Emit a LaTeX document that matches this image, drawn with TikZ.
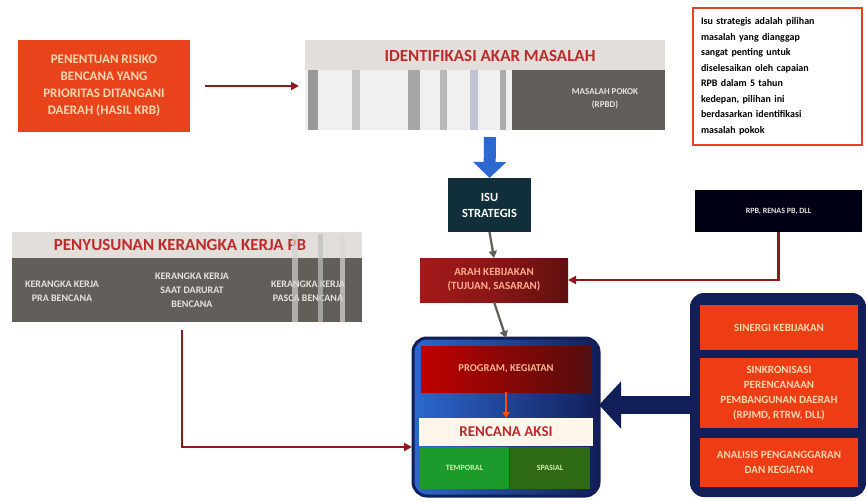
\documentclass[tikz,border=0pt]{standalone}
\usepackage{fontspec}
\setmainfont{Carlito}
\usetikzlibrary{arrows.meta,calc}
\definecolor{orangebox}{HTML}{E9431C}
\definecolor{peach}{HTML}{FBD7B0}
\definecolor{titlegrey}{HTML}{E2DFDB}
\definecolor{darkgrey}{HTML}{625E5A}
\definecolor{titlered}{HTML}{BE2A2C}
\definecolor{tealbox}{HTML}{102F3A}
\definecolor{wine}{HTML}{8A1616}
\definecolor{navy}{HTML}{121E58}
\definecolor{bandred}{HTML}{EE3C14}
\definecolor{midblue}{HTML}{2C68D0}
\definecolor{arrowred}{HTML}{8E1A1E}
\definecolor{greenA}{HTML}{1C9A2C}
\definecolor{greenB}{HTML}{2E6914}
\definecolor{palegreen}{HTML}{CDEFA5}
\definecolor{boxtext}{HTML}{E6E2DE}
\begin{document}
\begin{tikzpicture}[x=1pt,y=-1pt,
  rect/.style={anchor=north west,inner sep=0pt,outer sep=0pt,align=center},
  coltext/.style={text=boxtext,font=\bfseries\fontsize{10}{14}\selectfont,align=center},
  redline/.style={draw=arrowred,line width=2.2pt,-{Triangle[length=8pt,width=8pt]}},
  greyline/.style={draw=darkgrey,line width=2.2pt,-{Triangle[length=7pt,width=8pt]}}]
\useasboundingbox[fill=white] (0,0) rectangle (866,500);

% --- risk box
\node[rect,fill=orangebox,minimum width=172pt,minimum height=92pt,text=peach,
  font=\bfseries\fontsize{13}{17}\selectfont] (risk) at (18,40)
  {PENENTUAN RISIKO\\BENCANA YANG\\PRIORITAS DITANGANI\\DAERAH (HASIL KRB)};

% --- identifikasi akar masalah
\node[rect,fill=darkgrey,minimum width=360pt,minimum height=90pt] (ident) at (305,40) {};
\fill[titlegrey] (305,40) rectangle (665,70);
\fill[white!88!gray] (305,70) rectangle (522,130);
\foreach \a/\b/\c in {308/318/gray!80,352/360/gray!45,408/420/gray!70,440/447/gray!55,470/478/blue!20!gray!40,500/506/gray!65,512/522/darkgrey}
  \fill[\c] (\a,70) rectangle (\b,130);
\node[font=\bfseries\fontsize{17}{19}\selectfont,text=titlered] (identT) at (490,56) {IDENTIFIKASI AKAR MASALAH};
\node[coltext,font=\bfseries\fontsize{9}{13}\selectfont] (identC) at (605,99) {MASALAH POKOK\\(RPBD)};

% --- blue arrow
\coordinate (blueA) at (490,137);
\node[rect,fill=tealbox,minimum width=83pt,minimum height=54pt,text=white,
  font=\bfseries\fontsize{12.5}{16}\selectfont] (isu) at (448,178) {ISU\\STRATEGIS};
\draw[draw=midblue,line width=12pt,-{Triangle[length=16pt,width=32pt]}] (blueA) -- (isu.north);

% --- arah kebijakan
\node[rect,left color=red!60!black!90,right color=wine!70!black,middle color=wine,
  minimum width=148pt,minimum height=44pt,text=peach!80!red,
  font=\bfseries\fontsize{11}{14}\selectfont] (arah) at (420,258) {ARAH KEBIJAKAN\\(TUJUAN, SASARAN)};
\draw[greyline] (isu.south) -- (arah.north);

% --- RPB box
\node[rect,fill=black!92!blue,minimum width=167pt,minimum height=42pt,text=boxtext,
  font=\bfseries\fontsize{8}{10}\selectfont] (rpb) at (695,190) {RPB, RENAS PB, DLL};
\draw[redline] (rpb.south) |- (arah.east);

% --- penyusunan kerangka kerja
\node[rect,fill=darkgrey,minimum width=350pt,minimum height=90pt] (pen) at (12,232) {};
\fill[titlegrey] (12,232) rectangle (362,258);
\node[font=\bfseries\fontsize{17}{19}\selectfont,text=titlered] (penT) at (180,245) {PENYUSUNAN KERANGKA KERJA PB};
\node[coltext] (pen1) at (62,291) {KERANGKA KERJA\\PRA BENCANA};
\node[coltext] (pen2) at (192,290) {KERANGKA KERJA\\SAAT DARURAT\\BENCANA};
\node[coltext] (pen3) at (308,291) {KERANGKA KERJA\\PASCA BENCANA};
\foreach \a/\b/\c in {292/298/gray!35,318/323/gray!50,340/345/gray!30}
  \fill[\c,opacity=0.7] (\a,234) rectangle (\b,322);

% --- centre rounded box
\node[rect,draw=navy,line width=3pt,rounded corners=14pt,left color=midblue,right color=navy,
  minimum width=186pt,minimum height=158pt] (ctr) at (413,338) {};
\node[rect,left color=red!75!black,right color=wine!60!black,minimum width=170pt,minimum height=46pt,
  text=peach!85!red,font=\bfseries\fontsize{10.5}{12}\selectfont] (prog) at (421,346) {PROGRAM, KEGIATAN};
\node[rect,fill=white!92!orange,minimum width=174pt,minimum height=28pt,text=titlered,
  font=\bfseries\fontsize{15}{17}\selectfont] (aksi) at (419,418) {RENCANA AKSI};
\node[rect,fill=greenA,minimum width=89pt,minimum height=42pt,text=palegreen,
  font=\bfseries\fontsize{8}{10}\selectfont] (temp) at (420,447) {TEMPORAL};
\node[rect,fill=greenB,minimum width=80pt,minimum height=42pt,text=palegreen,
  font=\bfseries\fontsize{8}{10}\selectfont] (spas) at (510,447) {SPASIAL};
\draw[draw=orange!60!red,line width=2pt,-{Triangle[length=6pt,width=7pt]}] (prog.south) -- (aksi.north);
\draw[greyline] (arah.south) -- (ctr.north);

% --- right rounded box
\node[rect,fill=navy,rounded corners=14pt,minimum width=176pt,minimum height=204pt] (rbox) at (690,293) {};
\node[rect,fill=bandred,minimum width=158pt,minimum height=45pt,text=peach,
  font=\bfseries\fontsize{11}{14}\selectfont] (sin) at (700,305) {SINERGI KEBIJAKAN};
\node[rect,fill=bandred,minimum width=158pt,minimum height=70pt,text=peach,
  font=\bfseries\fontsize{11}{15}\selectfont] (sink) at (700,358)
  {SINKRONISASI\\PERENCANAAN\\PEMBANGUNAN DAERAH\\(RPJMD, RTRW, DLL)};
\node[rect,fill=bandred,minimum width=158pt,minimum height=49pt,text=peach,
  font=\bfseries\fontsize{11}{15}\selectfont] (anal) at (700,438) {ANALISIS PENGANGGARAN\\DAN KEGIATAN};
\draw[draw=navy,line width=18pt,-{Triangle[length=22pt,width=46pt]}] ([yshift=-10pt]rbox.west) -- ([yshift=12pt]ctr.east);

% --- connectors
\draw[redline] (risk.east) ++(15,0) coordinate (riskout) (riskout) -- ([xshift=-6pt]risk.east -| ident.west);
\coordinate (penout) at (182,330);
\coordinate (ctrin) at (412,447);
\draw[redline] (penout) |- (ctrin);

% --- note box
\node[rect,draw=orangebox,line width=1.5pt,fill=white,minimum width=169pt,minimum height=137pt,
  text width=169pt,font=\bfseries\fontsize{10}{15.5}\selectfont,align=left] (note) at (693,8)
  {\hspace*{8pt}\begin{minipage}{152pt}\raggedright
  \makebox[152pt][s]{Isu strategis adalah pilihan}\\
  \makebox[152pt][s]{masalah yang dianggap}\\
  \makebox[152pt][s]{sangat penting untuk}\\
  \makebox[152pt][s]{diselesaikan oleh capaian}\\
  \makebox[152pt][s]{RPB dalam 5 tahun}\\
  \makebox[152pt][s]{kedepan, pilihan ini}\\
  \makebox[152pt][s]{berdasarkan identifikasi}\\
  masalah pokok\end{minipage}};
\end{tikzpicture}
\end{document}
